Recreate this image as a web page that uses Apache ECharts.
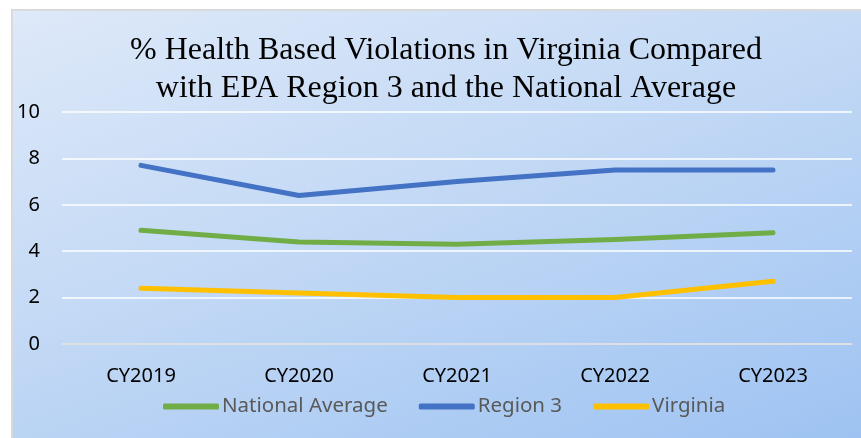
<!DOCTYPE html>
<html>
<head>
<meta charset="utf-8">
<script src="https://cdn.jsdelivr.net/npm/echarts@6/dist/echarts.min.js"></script>
<style>
  html, body { margin: 0; padding: 0; background: #fff; }
  #frame {
    position: absolute; left: 11px; top: 9px; width: 850px; height: 429px;
    box-sizing: border-box; border-left: 2px solid #d9d9d9; border-top: 2px solid #d9d9d9;
    background: linear-gradient(160deg, #dee9f9 0%, #c3d9f5 45%, #9ec3f2 100%);
  }
  #chart { position: absolute; left: 0; top: 0; width: 861px; height: 438px; }
</style>
</head>
<body>
<div id="frame"></div>
<div id="chart"></div>
<script>
// data
const years = ['CY2019', 'CY2020', 'CY2021', 'CY2022', 'CY2023'];
const nationalAvg = [4.9, 4.4, 4.3, 4.5, 4.8];
const region3 = [7.7, 6.4, 7.0, 7.5, 7.5];
const virginia = [2.4, 2.2, 2.0, 2.0, 2.7];

const chart = echarts.init(document.getElementById('chart'));

const lineSeries = (name, data, color) => ({
  name: name,
  type: 'line',
  data: data,
  showSymbol: false,
  symbol: 'none',
  lineStyle: { color: color, width: 5, cap: 'round', join: 'round' },
  itemStyle: { color: color }
});

chart.setOption({
  backgroundColor: 'transparent',
  title: {
    text: '% Health Based Violations in Virginia Compared\nwith EPA Region 3 and the National Average',
    left: 441,
    top: 27,
    textAlign: 'center',
    textStyle: {
      fontFamily: 'Liberation Serif',
      fontWeight: 'normal',
      fontSize: 32,
      lineHeight: 38,
      color: '#000'
    }
  },
  legend: {
    data: ['National Average', 'Region 3', 'Virginia'],
    left: 158,
    top: 391,
    icon: 'roundRect',
    itemWidth: 56,
    itemHeight: 6,
    itemGap: 31,
    textStyle: { fontFamily: 'Noto Sans', fontSize: 20.5, color: '#595959', padding: [0, 0, 0, -2] }
  },
  grid: { left: 62, right: 9, top: 112, bottom: 94, containLabel: false },
  xAxis: {
    type: 'category',
    data: years,
    boundaryGap: true,
    axisLine: { show: true, lineStyle: { color: '#d9d9d9', width: 1.5 } },
    axisTick: { show: false },
    axisLabel: { color: '#000', fontFamily: 'Noto Sans', fontSize: 20, margin: 22 }
  },
  yAxis: {
    type: 'value',
    min: 0,
    max: 10,
    interval: 2,
    axisLine: { show: false },
    axisTick: { show: false },
    axisLabel: { color: '#000', fontFamily: 'Noto Sans', fontSize: 20, margin: 22 },
    splitLine: { lineStyle: { color: '#ffffff', width: 1.5 } }
  },
  series: [
    lineSeries('National Average', nationalAvg, '#70ad47'),
    lineSeries('Region 3', region3, '#4472c4'),
    lineSeries('Virginia', virginia, '#ffc000')
  ]
});
</script>
</body>
</html>
